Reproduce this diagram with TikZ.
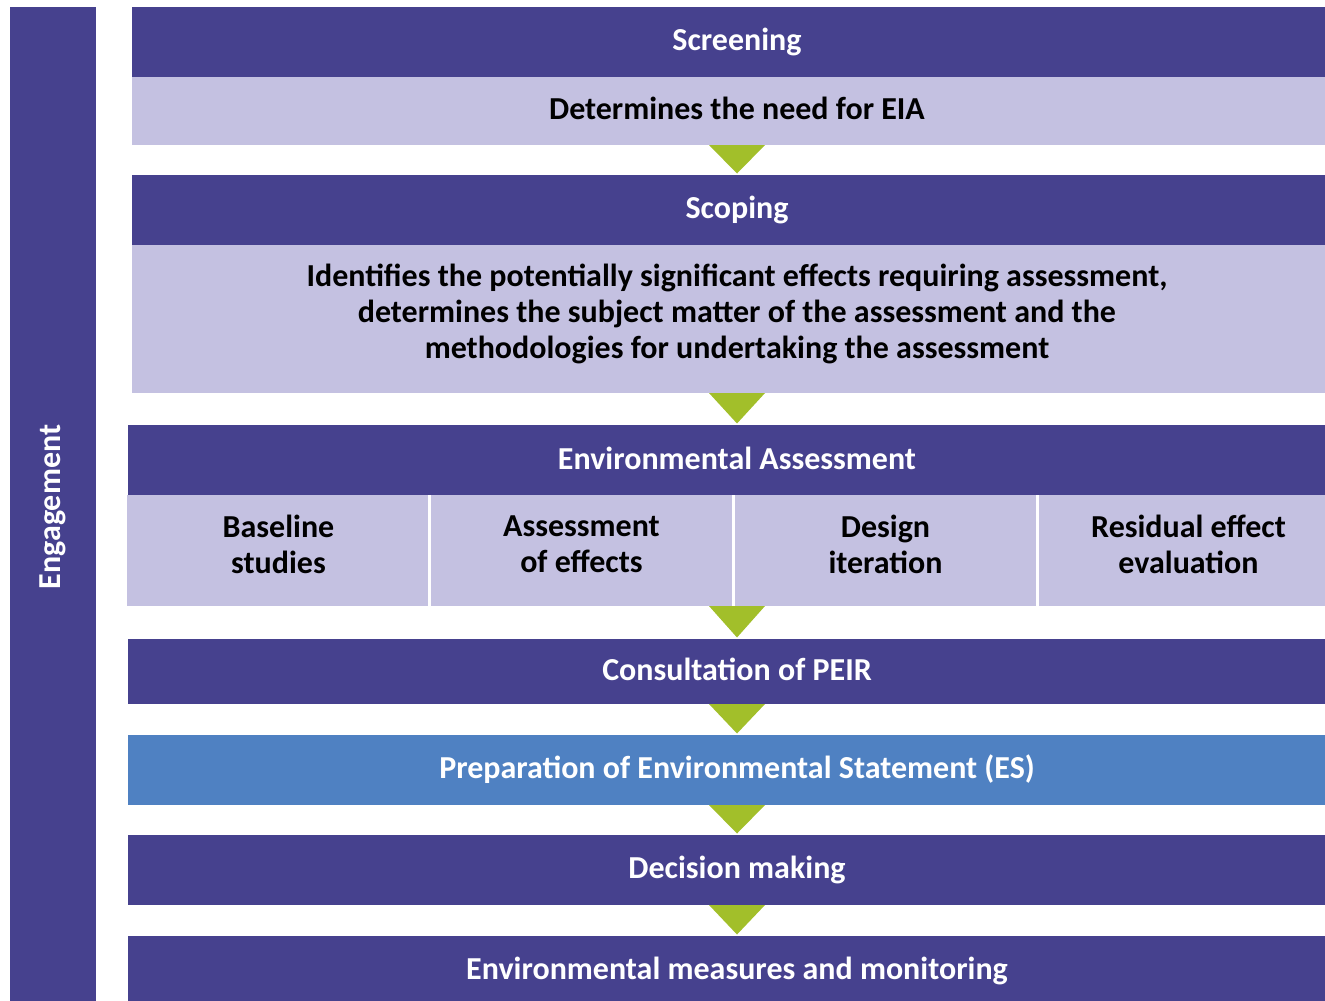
\documentclass[tikz,border=0pt]{standalone}
\usepackage{fontspec}
\setmainfont{Carlito}
\usetikzlibrary{calc}
\definecolor{dark}{HTML}{46418E}
\definecolor{lite}{HTML}{C4C1E1}
\definecolor{grn}{HTML}{A2BF2A}
\definecolor{esblue}{HTML}{4F81C2}
\begin{document}
\begin{tikzpicture}[x=1pt,y=-1pt,
  box/.style={rectangle, inner sep=0pt, outer sep=0pt, anchor=north west},
  darkbox/.style={box, fill=dark},
  litebox/.style={box, fill=lite},
  bluebox/.style={box, fill=esblue},
  txt/.style={inner sep=0pt, align=center, font=\fontsize{32}{36}\selectfont\bfseries},
  wtxt/.style={txt, text=white},
  btxt/.style={txt, text=black},
  arrowtri/.style={fill=grn}]
\useasboundingbox (0,0) rectangle (1325,1001);
\fill[white] (0,0) rectangle (1325,1001);
% engagement bar
\node[darkbox, minimum width=86, minimum height=1000] (eng) at (10,7) {};
\node[wtxt, rotate=90] (engt) at (eng.center) {Engagement};
% screening
\node[darkbox, minimum width=1210, minimum height=70] (scr) at (132,7) {};
\node[wtxt] (scrt) at (scr.center) {Screening};
\node[litebox, minimum width=1210, minimum height=68] (scrd) at (132,77) {};
\node[btxt] (scrdt) at ($(scrd.center)+(0,-3)$) {Determines the need for EIA};
% scoping
\node[darkbox, minimum width=1210, minimum height=70] (sco) at (132,175) {};
\node[wtxt] (scot) at ($(sco.center)+(0,0)$) {Scoping};
\node[litebox, minimum width=1210, minimum height=148] (scod) at (132,245) {};
\node[btxt] (scodt) at ($(scod.center)+(0,-5)$) {Identifies the potentially significant effects requiring assessment,\\determines the subject matter of the assessment and the\\methodologies for undertaking the assessment};
% environmental assessment
\node[darkbox, minimum width=1218, minimum height=70] (ea) at (128,425) {};
\node[wtxt] (eat) at ($(ea.center)+(0,-2)$) {Environmental Assessment};
\node[litebox, minimum width=301, minimum height=111] (c1) at (127,495) {};
\node[litebox, minimum width=301, minimum height=111] (c2) at (431,495) {};
\node[litebox, minimum width=301, minimum height=111] (c3) at (735,495) {};
\node[litebox, minimum width=307, minimum height=111] (c4) at (1039,495) {};
\node[btxt] (c1t) at ($(c1.center)+(1,-6)$) {Baseline\\studies};
\node[btxt] (c2t) at ($(c2.center)+(0,-6)$) {Assessment\\of effects};
\node[btxt] (c3t) at ($(c3.center)+(0,-6)$) {Design\\iteration};
\node[btxt] (c4t) at ($(c4.center)+(-4,-6)$) {Residual effect\\evaluation};
\coordinate (eab) at (737,606);
% lower steps
\node[darkbox, minimum width=1218, minimum height=65] (peir) at (128,639) {};
\node[wtxt] (peirt) at ($(peir.center)+(0,-2)$) {Consultation of PEIR};
\node[bluebox, minimum width=1218, minimum height=70] (es) at (128,735) {};
\node[wtxt] (est) at ($(es.center)+(0,-1)$) {Preparation of Environmental Statement (ES)};
\node[darkbox, minimum width=1218, minimum height=70] (dm) at (128,835) {};
\node[wtxt] (dmt) at (dm.center) {Decision making};
\node[darkbox, minimum width=1218, minimum height=70] (em) at (128,936) {};
\node[wtxt] (emt) at (em.center) {Environmental measures and monitoring};
% triangles
\foreach \a/\b in {scrd.south/sco.north, scod.south/ea.north, eab/peir.north, peir.south/es.north, es.south/dm.north, dm.south/em.north}{
  \fill[arrowtri] ($(\a)+(-28,0)$) -- ($(\a)+(28,0)$) -- ($(\b)+(0,-1.5)$) -- cycle;
}
\end{tikzpicture}
\end{document}
